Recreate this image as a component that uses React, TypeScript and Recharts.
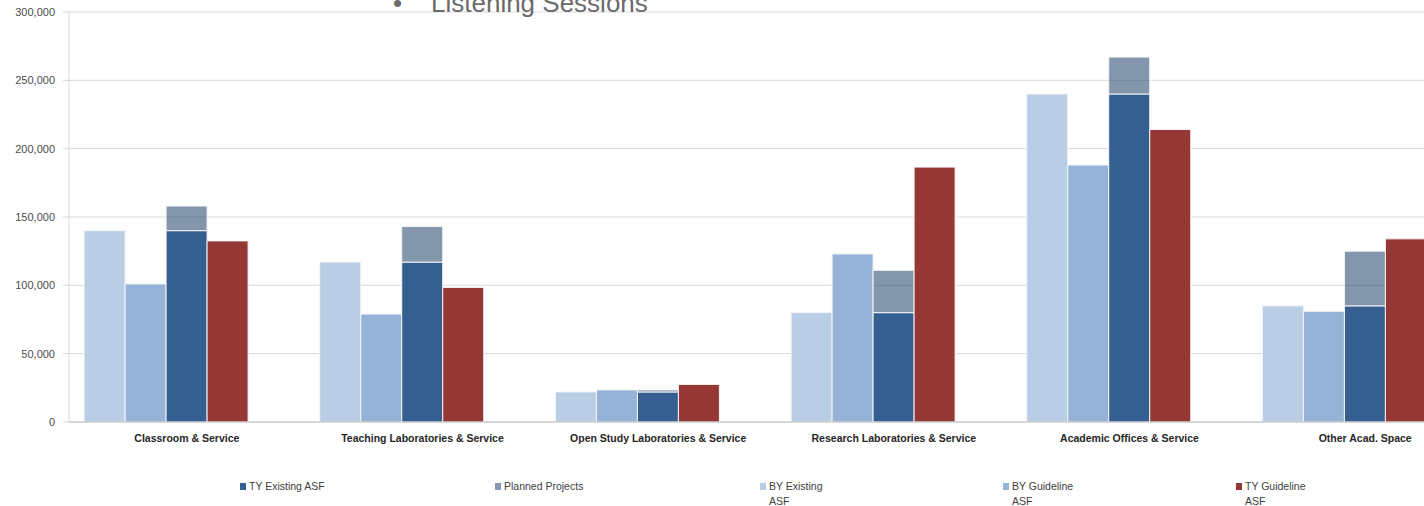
import React from 'react';
import { BarChart, Bar, XAxis, YAxis, CartesianGrid, Legend } from 'recharts';

const categories = [
  'Classroom & Service',
  'Teaching Laboratories & Service',
  'Open Study Laboratories & Service',
  'Research Laboratories & Service',
  'Academic Offices & Service',
  'Other Acad. Space',
];

// values (ASF)
const byExisting = [140000, 117000, 22000, 80000, 240000, 85000];
const byGuideline = [101000, 79000, 23500, 123000, 188000, 81000];
const tyExisting = [140000, 117000, 22000, 80000, 240000, 85000];
const plannedProjects = [18000, 26000, 1500, 31000, 27000, 40000];
const tyGuideline = [132500, 98500, 27500, 186500, 214000, 134000];

const yTicks = [0, 50000, 100000, 150000, 200000, 250000, 300000];

const legendItems = [
  { label: 'TY Existing ASF', color: '#355f91', width: 255 },
  { label: 'Planned Projects', color: '#8498b3', width: 265 },
  { label: 'BY Existing\nASF', color: '#b9cde4', width: 243 },
  { label: 'BY Guideline\nASF', color: '#95b3d7', width: 233 },
  { label: 'TY Guideline\nASF', color: '#953735', width: 150 },
];

const data = categories.map((name, i) => ({
  name,
  byExisting: byExisting[i],
  byGuideline: byGuideline[i],
  tyExisting: tyExisting[i],
  planned: plannedProjects[i],
  tyGuideline: tyGuideline[i],
  blank: null,
}));

const font = '"Liberation Sans", Arial, sans-serif';

function renderLegend() {
  return (
    <div style={{ display: 'flex', paddingLeft: 240, paddingTop: 17, fontFamily: font, fontSize: 10.5, color: '#404040' }}>
      {legendItems.map((item) => (
        <div key={item.label} style={{ width: item.width, display: 'flex', alignItems: 'flex-start' }}>
          <span style={{ width: 6, height: 7, background: item.color, marginTop: 4, marginRight: 3 }} />
          <span style={{ whiteSpace: 'pre-line', lineHeight: '15px' }}>{item.label}</span>
        </div>
      ))}
    </div>
  );
}

export default function App() {
  return (
    <div style={{ position: 'absolute', left: 0, top: 0, width: 1424, height: 506, overflow: 'hidden', background: '#fff' }}>
      <BarChart
        width={1483}
        height={506}
        data={data}
        margin={{ top: 12, right: 0, bottom: 0, left: 0 }}
        barCategoryGap="6.4%"
        barGap={0}
      >
        <CartesianGrid vertical={false} stroke="#d9d9d9" />
        <XAxis
          dataKey="name"
          height={40}
          tickLine={false}
          axisLine={{ stroke: '#bfbfbf' }}
          tickMargin={7}
          tick={{ fontSize: 10.5, fontWeight: 'bold', fill: '#262626', fontFamily: font }}
          interval={0}
        />
        <YAxis
          width={69}
          domain={[0, 300000]}
          ticks={yTicks}
          tickFormatter={(v) => v.toLocaleString('en-US')}
          axisLine={{ stroke: '#d9d9d9' }}
          tickLine={{ stroke: '#d9d9d9' }}
          tickMargin={8}
          tick={{ fontSize: 11, fill: '#4d4d4d', fontFamily: font }}
        />
        <Legend
          verticalAlign="bottom"
          content={renderLegend}
          wrapperStyle={{ left: 0, width: 1483, height: 44 }}
        />
        <Bar dataKey="byExisting" stackId="a" fill="#b9cde4" stroke="#f5f5f5" isAnimationActive={false} />
        <Bar dataKey="byGuideline" stackId="b" fill="#95b3d7" stroke="#f5f5f5" isAnimationActive={false} />
        <Bar dataKey="tyExisting" stackId="ty" fill="#355f91" stroke="#f5f5f5" isAnimationActive={false} />
        <Bar dataKey="planned" stackId="ty" fill="#1f3f68" fillOpacity={0.55} stroke="#f5f5f5" isAnimationActive={false} />
        <Bar dataKey="tyGuideline" stackId="e" fill="#953735" stroke="#f5f5f5" isAnimationActive={false} />
        <Bar dataKey="blank" stackId="f" fill="none" legendType="none" isAnimationActive={false} />
      </BarChart>
      <div
        style={{
          position: 'absolute',
          left: 393,
          top: -12,
          fontFamily: font,
          fontSize: 26,
          color: '#6b6b6b',
          whiteSpace: 'pre',
        }}
      >
        {'•    Listening Sessions'}
      </div>
    </div>
  );
}
